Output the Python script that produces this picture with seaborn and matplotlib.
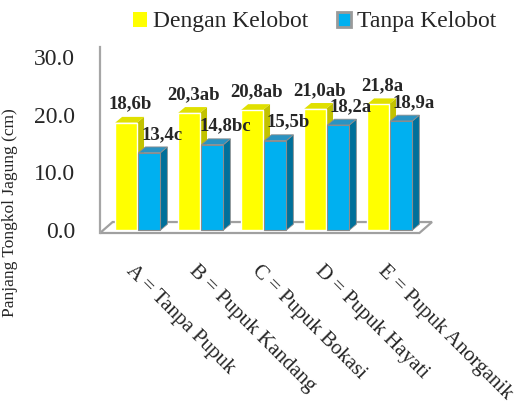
import matplotlib
matplotlib.use("Agg")
import matplotlib.pyplot as plt
from matplotlib.patches import Polygon, Patch
from matplotlib.transforms import ScaledTranslation
import seaborn as sns
import pandas as pd

# Panjang tongkol jagung per perlakuan pupuk
treatments = ["A = Tanpa Pupuk", "B = Pupuk Kandang", "C = Pupuk Bokasi",
              "D = Pupuk Hayati", "E = Pupuk Anorganik"]
series_names = ["Dengan Kelobot", "Tanpa Kelobot"]
dengan_kelobot = [18.6, 20.3, 20.8, 21.0, 21.8]
tanpa_kelobot = [13.4, 14.8, 15.5, 18.2, 18.9]
label_dengan = ["18,6b", "20,3ab", "20,8ab", "21,0ab", "21,8a"]
label_tanpa = ["13,4c", "14,8bc", "15,5b", "18,2a", "18,9a"]
y_ticks = [0, 10, 20, 30]

sns.set_style("white")
plt.rcParams["font.family"] = ["Liberation Serif", "DejaVu Serif"]

df = pd.DataFrame({
    "Perlakuan": treatments * 2,
    "Kelobot": [series_names[0]] * 5 + [series_names[1]] * 5,
    "Panjang": dengan_kelobot + tanpa_kelobot,
})

yellow, blue = "#FFFF00", "#00B0F0"
side_cols = ["#C2C200", "#00709A"]
top_cols = ["#E0E000", "#2A93C2"]

fig = plt.figure(figsize=(5.17, 4.05), dpi=100)
ax = fig.add_axes([100 / 517, (405 - 233) / 405, 332 / 517, 186 / 405])

sns.barplot(data=df, x="Perlakuan", y="Panjang", hue="Kelobot",
            palette=[yellow, blue], width=0.74, gap=0.06, saturation=1,
            legend=False, ax=ax, zorder=2)

ax.set_xlim(-0.6, 4.67)
ax.set_ylim(-0.5, 31.7)

# depth of the pseudo-3D extrusion (data units)
dx, dy = 0.11, 1.0

# floor slab
x0, x1 = ax.get_xlim()
floor = Polygon([(x0, -0.5), (x1 - 0.2, -0.5), (x1, 1.4), (x0 + 0.2, 1.4)],
                closed=True, facecolor="white", edgecolor="#a0a0a0",
                linewidth=1.6, zorder=1, clip_on=False)
ax.add_patch(floor)

labels_by_series = [label_dengan, label_tanpa]
label_shift = [3, 9]
for s, cont in enumerate(ax.containers):
    base_z = 2 + s * 0.5
    for bar, txt in zip(cont, labels_by_series[s]):
        bx, bw, bh = bar.get_x(), bar.get_width(), bar.get_height()
        side = Polygon([(bx + bw, 0), (bx + bw + dx, dy), (bx + bw + dx, bh + dy), (bx + bw, bh)],
                       closed=True, facecolor=side_cols[s],
                       edgecolor="#8c8c8c" if s else "none", linewidth=0.6, zorder=base_z)
        top = Polygon([(bx, bh), (bx + dx, bh + dy), (bx + bw + dx, bh + dy), (bx + bw, bh)],
                      closed=True, facecolor=top_cols[s],
                      edgecolor="#8c8c8c" if s else "none", linewidth=0.6, zorder=base_z)
        ax.add_patch(side)
        ax.add_patch(top)
        bar.set_zorder(base_z + 0.1)
        if s:
            bar.set_edgecolor("#8c8c8c")
            bar.set_linewidth(0.8)
        ax.annotate(txt, (bx + bw / 2, bh + dy), xytext=(label_shift[s], 3),
                    textcoords="offset points", ha="center", va="bottom",
                    fontsize=13.5, fontweight="bold", zorder=5)

# axes styling
for name in ["top", "right", "bottom"]:
    ax.spines[name].set_visible(False)
ax.spines["left"].set_color("#a6a6a6")
ax.spines["left"].set_linewidth(1.6)
ax.spines["left"].set_bounds(-0.5, 31.7)

ax.set_yticks(y_ticks)
ax.set_yticklabels([f"{v:.1f}" for v in y_ticks], fontsize=17)
ax.tick_params(axis="both", length=0)
ax.tick_params(axis="y", pad=18)
ax.tick_params(axis="x", pad=28)

ax.set_xticks(range(len(treatments)))
ax.set_xticklabels(treatments, rotation=-45, ha="left", va="baseline",
                   rotation_mode="anchor", fontsize=15)
for lab in ax.get_xticklabels():
    lab.set_transform(lab.get_transform() + ScaledTranslation(-12 / 100, 0, fig.dpi_scale_trans))

ax.set_xlabel("")
ax.set_ylabel("Panjang Tongkol Jagung (cm)", fontsize=12.5)
ax.yaxis.set_label_coords(-0.247, 0.11)
ax.grid(False)

handles = [Patch(facecolor=yellow, edgecolor="none"),
           Patch(facecolor=blue, edgecolor="#9a9a9a", linewidth=2)]
fig.legend(handles, series_names, loc="center", bbox_to_anchor=(0.608, 0.946),
           ncol=2, frameon=False, fontsize=17, handlelength=0.6, handleheight=0.6,
           handletextpad=0.25, columnspacing=1.2, borderaxespad=0)

fig.savefig("out.png", dpi=100)
